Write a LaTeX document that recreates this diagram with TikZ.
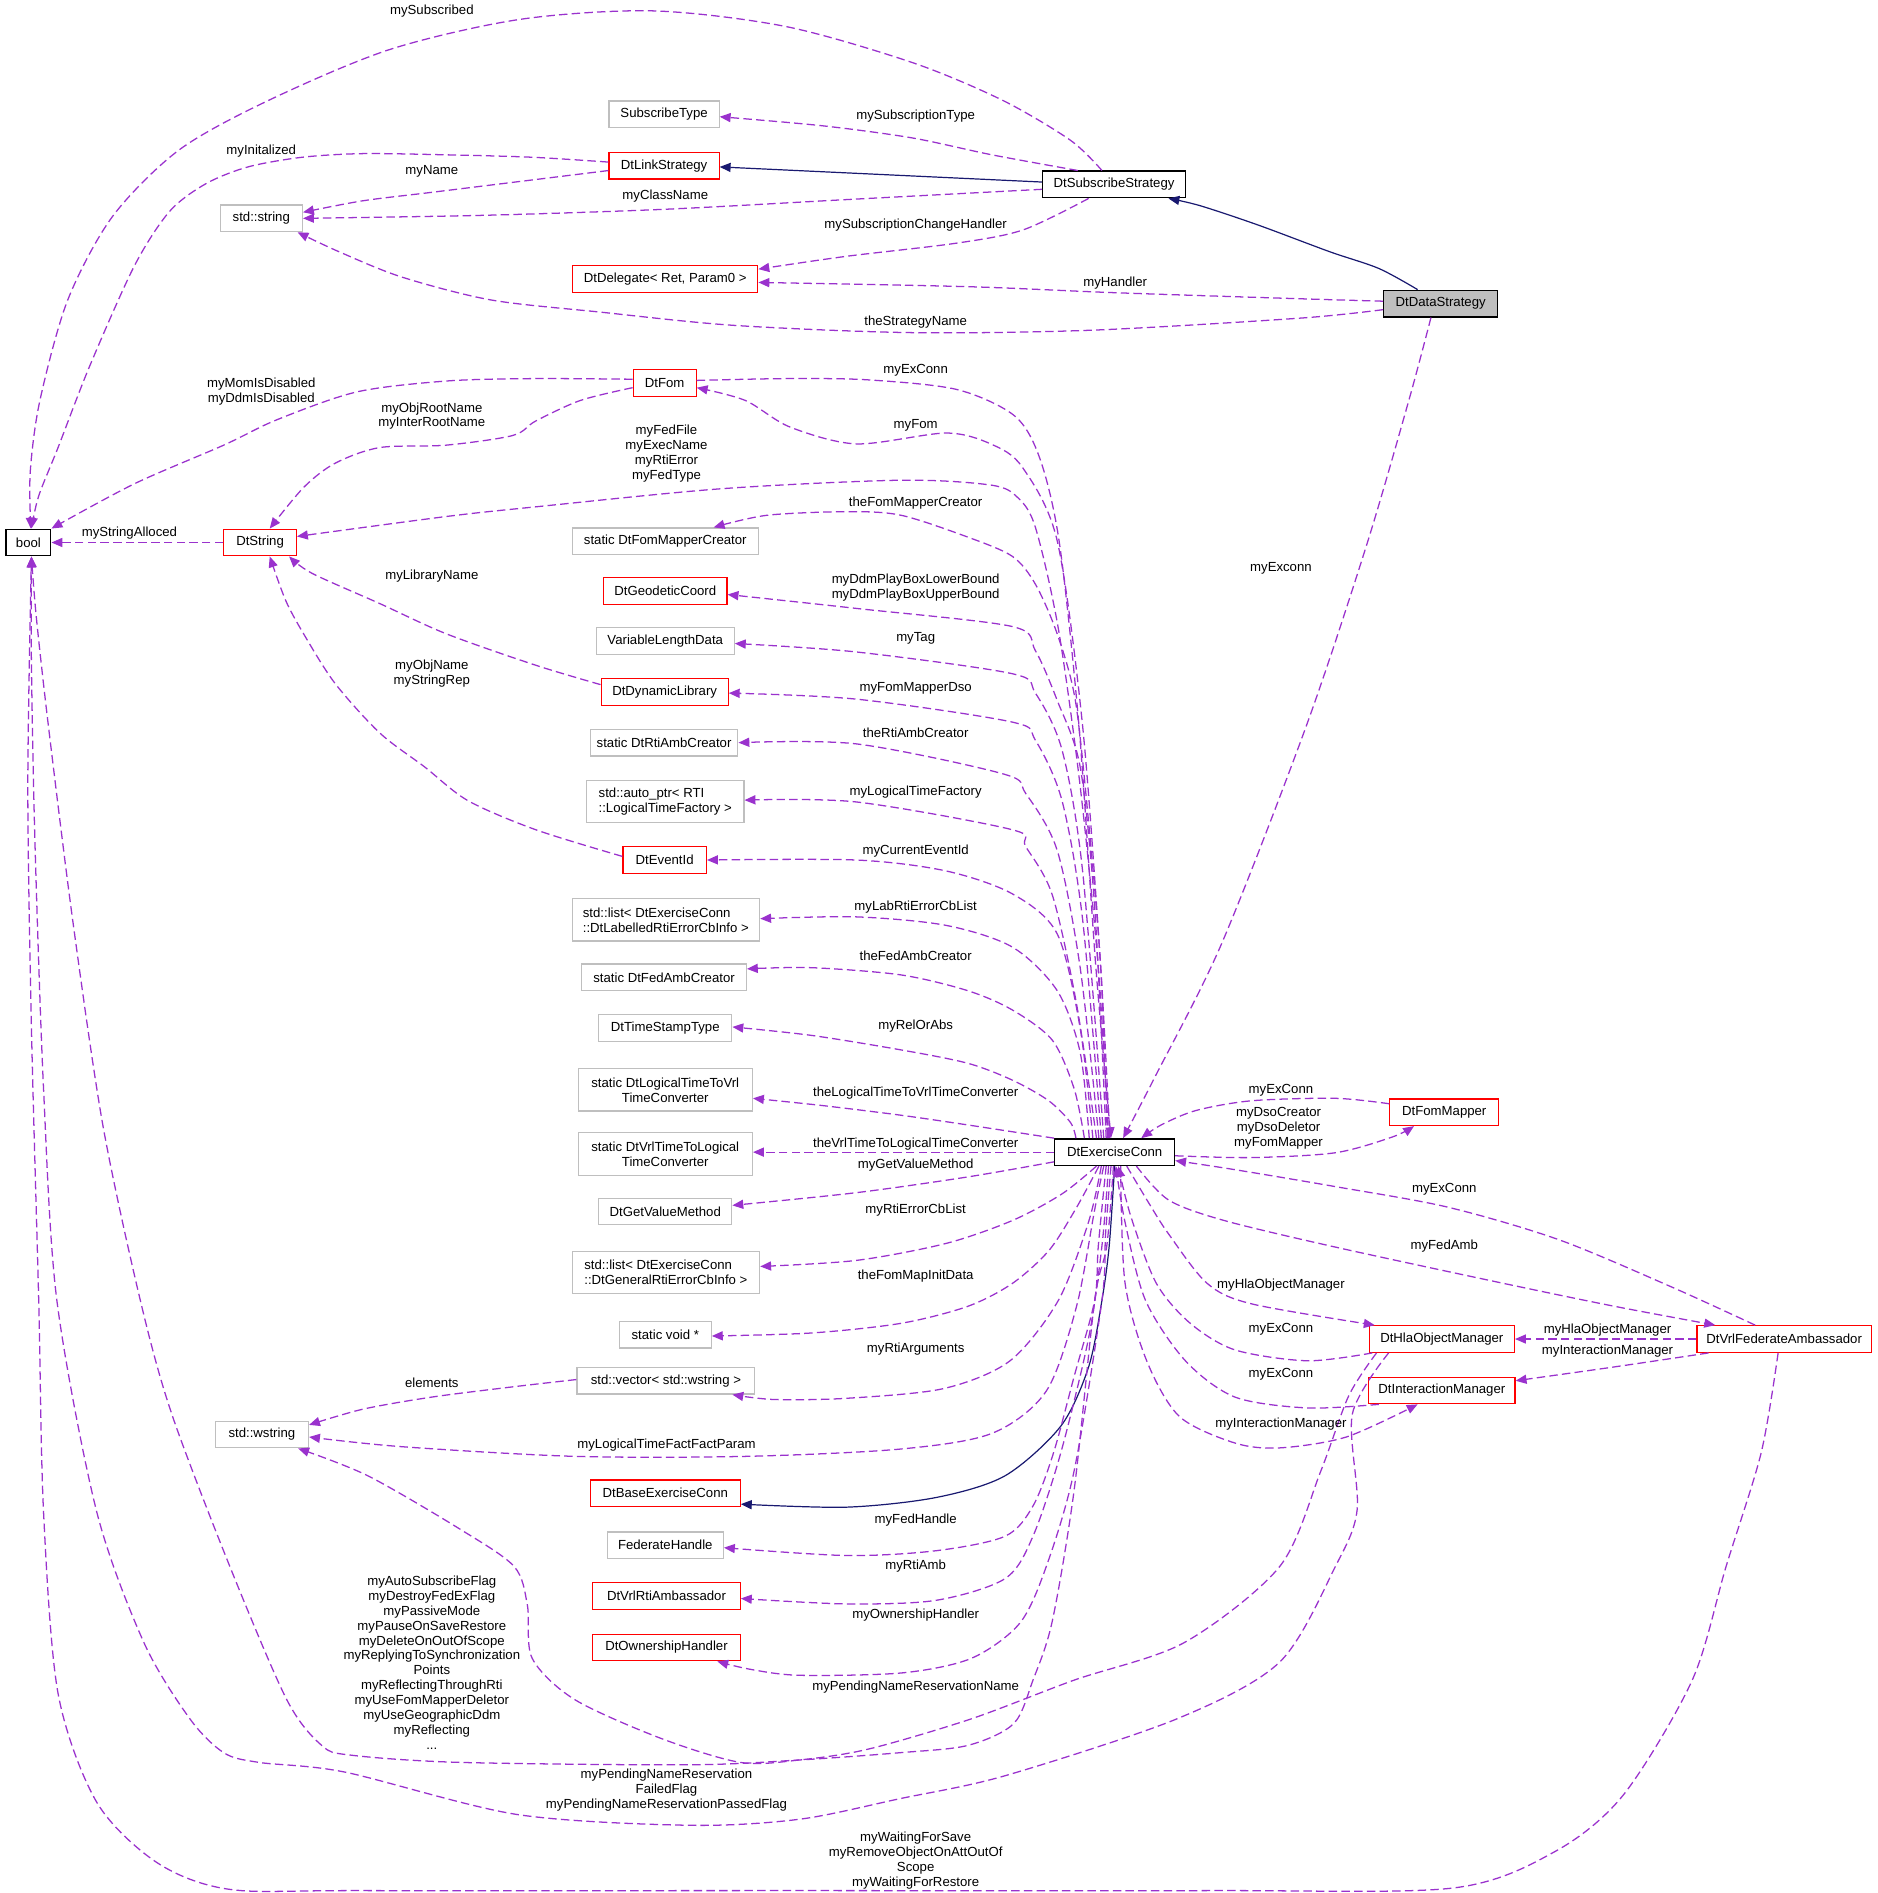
\documentclass[tikz,border=0pt]{standalone}
\usepackage{fontspec}
\setmainfont{Liberation Sans}
\usetikzlibrary{arrows.meta}
\definecolor{edgepurple}{HTML}{9A32CD}
\definecolor{inhnavy}{HTML}{191970}
\definecolor{nodered}{HTML}{FF0000}
\definecolor{nodegray}{HTML}{BFBFBF}
\begin{document}
\begin{tikzpicture}[x=1pt,y=-1pt,
  every node/.style={font=\fontsize{10.9}{12.3}\selectfont},
  cls/.style={draw, rectangle, inner sep=0pt, minimum height=22pt, line width=1pt, align=center},
  redcls/.style={cls, draw=nodered},
  graycls/.style={cls, draw=nodegray},
  blackcls/.style={cls, draw=black, line width=1.1pt},
  lbl/.style={inner sep=0pt, align=center},
  dep/.style={draw=edgepurple, line width=1.05pt, dash pattern=on 7pt off 3.5pt, -{Triangle[length=9pt,width=7.5pt]}},
  inh/.style={draw=inhnavy, line width=1pt, -{Triangle[length=9pt,width=7.5pt]}},
]
\useasboundingbox (0,0) rectangle (1552,1565);

% ---------- nodes ----------
\node[blackcls, minimum width=37pt] (bool) at (23.5,448.5) {bool};
\node[redcls, minimum width=60pt] (dtstring) at (215,448.5) {DtString};
\node[graycls, minimum width=68pt] (stdstring) at (216,180.5) {std::string};
\node[graycls, minimum width=91pt] (subtype) at (549,94.5) {SubscribeType};
\node[redcls, minimum width=91pt] (linkstrat) at (549,137) {DtLinkStrategy};
\node[blackcls, minimum width=118pt] (subscribe) at (921,152.5) {DtSubscribeStrategy};
\node[redcls, minimum width=153pt] (delegate) at (550,230.5) {DtDelegate< Ret, Param0 >};
\node[blackcls, fill=nodegray, minimum width=94pt] (datastrat) at (1191,251) {DtDataStrategy};
\node[redcls, minimum width=52pt] (dtfom) at (549.5,316.5) {DtFom};
\node[graycls, minimum width=154pt] (fmcreator) at (550,447.5) {static DtFomMapperCreator};
\node[redcls, minimum width=102pt] (geodetic) at (550,488.5) {DtGeodeticCoord};
\node[graycls, minimum width=114pt] (varlen) at (550,530) {VariableLengthData};
\node[redcls, minimum width=105pt] (dynlib) at (549.5,572) {DtDynamicLibrary};
\node[graycls, minimum width=122pt] (rtiambcreator) at (549,614) {static DtRtiAmbCreator};
\node[graycls, minimum width=130pt, minimum height=35pt, align=left] (autoptr) at (550,662.5) {std::auto\_ptr< RTI\\::LogicalTimeFactory >};
\node[redcls, minimum width=69pt] (eventid) at (549.5,711) {DtEventId};
\node[graycls, minimum width=155pt, minimum height=35pt, align=left] (listlab) at (550.5,760.5) {std::list< DtExerciseConn\\::DtLabelledRtiErrorCbInfo >};
\node[graycls, minimum width=136pt] (fedambcreator) at (549,808) {static DtFedAmbCreator};
\node[graycls, minimum width=110pt] (timestamp) at (550,850) {DtTimeStampType};
\node[graycls, minimum width=144pt, minimum height=35pt] (log2vrl) at (550,901) {static DtLogicalTimeToVrl\\TimeConverter};
\node[graycls, minimum width=144pt, minimum height=35pt] (vrl2log) at (550,954) {static DtVrlTimeToLogical\\TimeConverter};
\node[graycls, minimum width=110pt] (getvalue) at (550,1001.5) {DtGetValueMethod};
\node[graycls, minimum width=155pt, minimum height=35pt, align=left] (listgen) at (550.5,1052) {std::list< DtExerciseConn\\::DtGeneralRtiErrorCbInfo >};
\node[graycls, minimum width=76pt] (staticvoid) at (550,1103.5) {static void *};
\node[graycls, minimum width=147pt] (vector) at (550.5,1141.5) {std::vector< std::wstring >};
\node[graycls, minimum width=77pt] (wstring) at (216.5,1186) {std::wstring};
\node[redcls, minimum width=124pt] (baseexconn) at (550,1234.5) {DtBaseExerciseConn};
\node[graycls, minimum width=96pt] (fedhandle) at (550,1277.5) {FederateHandle};
\node[redcls, minimum width=122pt] (vrlrtiamb) at (551,1319.5) {DtVrlRtiAmbassador};
\node[redcls, minimum width=122pt] (ownership) at (551,1362) {DtOwnershipHandler};
\node[blackcls, minimum width=99pt] (exconn) at (921.5,952.5) {DtExerciseConn};
\node[redcls, minimum width=90pt] (fommapper) at (1194,919.5) {DtFomMapper};
\node[redcls, minimum width=120pt] (hla) at (1192,1107) {DtHlaObjectManager};
\node[redcls, minimum width=121pt] (interaction) at (1192,1149.5) {DtInteractionManager};
\node[redcls, minimum width=144pt] (vrlfed) at (1475,1107) {DtVrlFederateAmbassador};

% ---------- inheritance ----------
\draw[inh] ([yshift=2pt]subscribe.west) -- ([yshift=-1pt]linkstrat.east);
\draw[inh] plot[smooth] coordinates {([xshift=-19pt]datastrat.north) (1140,222) (1099,208) (1040,186) (992,170) ([xshift=45pt]subscribe.south)};
\draw[inh] plot[smooth] coordinates {(exconn.south) (917,1030) (911,1075) (900,1130) (877,1179) (831,1220) (774,1238) (700,1246) ([yshift=-9pt]baseexconn.east)};

% ---------- edges to bool ----------
\draw[dep] plot[smooth] coordinates {([xshift=-10pt]subscribe.north) (885,116) (829,83) (755,52) (650,22) (540,9) (430,16) (322,41) (222,83) (148,124) (93,179) (56,248) (33,331) (25,390) ([xshift=2pt]bool.north)};
\draw[dep] plot[smooth] coordinates {([yshift=3pt]linkstrat.west) (440,130) (369,128) (300,127) (250,130) (205,138) (170,152) (140,175) (111,220) (74,303) (48,370) (32,410) ([xshift=2.5pt]bool.north)};
\draw[dep] plot[smooth] coordinates {([yshift=3pt]dtfom.west) (440,313) (369,315) (295,324) (229,347) (185,368) (111,400) (bool.north east)};
\draw[dep] (dtstring.west) -- (bool.east);
\draw[dep] plot[smooth] coordinates {([xshift=-1pt]exconn.south) (915,1030) (905,1075) (888,1232) (870,1340) (854,1389) (838,1425) (800,1443) (744,1449) (661,1455) (570,1459) (380,1457) (290,1451) (266,1443) (237,1405) (190,1295) (142,1169) (116,1075) (85,930) (60,760) (40,600) (30,510) ([xshift=2.5pt]bool.south)};
\draw[dep] plot[smooth] coordinates {([xshift=-44pt]hla.south) (1118,1169) (1122,1248) (1104,1295) (1058,1374) (973,1421) (831,1468) (744,1487) (661,1504) (570,1509) (427,1500) (285,1465) (214,1457) (185,1449) (157,1421) (119,1358) (80,1250) (47,1075) (36,900) (29,700) (26,550) ([xshift=2.5pt]bool.south)};
\draw[dep] plot[smooth] coordinates {([xshift=-5pt]vrlfed.south) (1456,1201) (1427,1295) (1399,1389) (1342,1484) (1285,1531) (1200,1561) (1000,1563) (661,1563) (300,1563) (190,1562) (130,1540) (80,1490) (48,1400) (36,1250) (32,1075) (26,850) (23,650) ([xshift=2.5pt]bool.south)};

% ---------- other left edges ----------
\draw[dep] plot[smooth] coordinates {([yshift=-4pt]linkstrat.west) (430,150) (357,159) (300,166) ([yshift=5pt]stdstring.east)};
\draw[dep] plot[smooth] coordinates {([yshift=-4pt]subscribe.west) (700,165) (550,173) (400,178) (stdstring.east)};
\draw[dep] plot[smooth] coordinates {([xshift=-30pt]subscribe.north) (820,128) (754,114) (680,104) ([yshift=-2pt]subtype.east)};
\draw[dep] plot[smooth] coordinates {([xshift=-21pt]subscribe.south) (846,190) (791,201) (699,212) ([yshift=8pt]delegate.east)};
\draw[dep] plot[smooth] coordinates {([yshift=2pt]datastrat.west) (1075,247) (922,242) (800,237) ([yshift=-3pt]delegate.east)};
\draw[dep] plot[smooth] coordinates {([yshift=-5pt]datastrat.west) (1075,263) (902,273) (754,275) (607,269) (496,258) (406,248) (332,229) (280,208) ([xshift=30pt]stdstring.south)};
\draw[dep] plot[smooth] coordinates {([yshift=-4pt]dtfom.west) (480,331) (443,348) (424,360) (369,368) (314,370) (277,383) (251,403) ([xshift=8pt]dtstring.north)};
\draw[dep] plot[smooth] coordinates {([yshift=6pt]dynlib.west) (443,550) (369,524) (314,499) (258,474) ([xshift=24pt]dtstring.south)};
\draw[dep] plot[smooth] coordinates {([yshift=3pt]eventid.west) (443,686) (387,662) (351,634) (314,606) (277,565) (251,524) (236,496) ([xshift=8pt]dtstring.south)};
\draw[dep] plot[smooth] coordinates {([yshift=1pt]vector.west) (420,1147) (357,1155) (300,1165) ([yshift=8pt]wstring.east)};

% ---------- DtExerciseConn top fan ----------
\draw[dep] plot[smooth] coordinates {([xshift=-5pt]exconn.north) (908,800) (893,650) (875,520) (856,436) (841,411) (819,401) (745,397) (597,404) (443,419) (369,427) ([yshift=5pt]dtstring.east)};
\draw[dep] plot[smooth] coordinates {([xshift=-4pt]exconn.north) (910,800) (895,600) (874,447) (845,386) (819,367) (782,358) (708,367) (653,353) (616,331) ([yshift=-4pt]dtfom.east)};
\draw[dep] plot[smooth] coordinates {([yshift=2pt]dtfom.east) (650,313) (717,314) (791,322) (839,344) (860,380) (876,450) (892,600) (906,800) ([xshift=-3pt]exconn.north)};
\draw[dep] plot[smooth] coordinates {([xshift=-8pt]datastrat.south) (1165,330) (1130,450) (1080,600) (1010,780) (955,890) ([xshift=7pt]exconn.north)};
\draw[dep] plot[smooth] coordinates {([xshift=-6pt]exconn.north) (910,800) (900,680) (889,579) (874,524) (856,483) (837,460) (800,444) (745,426) (701,423) (634,426) ([xshift=40pt]fmcreator.north)};
\draw[dep] plot[smooth] coordinates {([xshift=-7pt]exconn.north) (905,750) (893,634) (874,579) (856,538) (837,518) (708,503) ([yshift=-3pt]geodetic.east)};
\draw[dep] plot[smooth] coordinates {([xshift=-9pt]exconn.north) (895,720) (878,620) (856,573) (837,557) (708,539) ([yshift=-2pt]varlen.east)};
\draw[dep] plot[smooth] coordinates {([xshift=-11pt]exconn.north) (895,760) (878,662) (856,612) (837,597) (708,578) ([yshift=-1pt]dynlib.east)};
\draw[dep] plot[smooth] coordinates {([xshift=-13pt]exconn.north) (893,800) (874,703) (848,656) (830,640) (708,615) (rtiambcreator.east)};
\draw[dep] plot[smooth] coordinates {([xshift=-15pt]exconn.north) (890,830) (870,740) (848,700) (837,686) (708,663) ([yshift=1pt]autoptr.east)};
\draw[dep] plot[smooth] coordinates {([xshift=-18pt]exconn.north) (893,850) (874,772) (837,739) (782,720) (708,711) (eventid.east)};
\draw[dep] plot[smooth] coordinates {([xshift=-21pt]exconn.north) (893,870) (874,819) (837,783) (782,765) (708,758) ([yshift=1pt]listlab.east)};
\draw[dep] plot[smooth] coordinates {([xshift=-25pt]exconn.north) (888,900) (870,860) (837,835) (800,819) (745,806) (671,800) ([yshift=7pt]fedambcreator.east)};
\draw[dep] plot[smooth] coordinates {([xshift=-32pt]exconn.north) (885,928) (867,910) (837,893) (800,879) (745,868) (671,856) ([yshift=1pt]timestamp.east)};

% ---------- DtExerciseConn left / bottom ----------
\draw[dep] plot[smooth] coordinates {(exconn.north west) (800,930) (745,922) (680,914) ([yshift=-7pt]log2vrl.east)};
\draw[dep] (exconn.west) -- (exconn.west -| vrl2log.east);
\draw[dep] plot[smooth] coordinates {([yshift=-8pt]exconn.west) (800,973) (708,986) ([yshift=5pt]getvalue.east)};
\draw[dep] plot[smooth] coordinates {([xshift=-15pt]exconn.south) (878,987) (837,1009) (782,1028) (708,1042) ([yshift=5pt]listgen.east)};
\draw[dep] plot[smooth] coordinates {([xshift=-13pt]exconn.south) (889,1000) (867,1034) (837,1061) (800,1080) (745,1094) (671,1102) ([yshift=-1pt]staticvoid.east)};
\draw[dep] plot[smooth] coordinates {([xshift=-11pt]exconn.south) (900,1010) (875,1075) (835,1125) (780,1148) (700,1156) (640,1157) ([xshift=55pt]vector.south)};
\draw[dep] plot[smooth] coordinates {([xshift=-9pt]exconn.south) (905,1000) (890,1080) (865,1150) (820,1185) (744,1198) (617,1204) (475,1204) (332,1196) ([yshift=-2pt]wstring.east)};
\draw[dep] plot[smooth] coordinates {([xshift=-7pt]exconn.south) (908,1030) (905,1075) (888,1138) (871,1201) (854,1245) (831,1270) (774,1282) (700,1286) ([yshift=-2pt]fedhandle.east)};
\draw[dep] plot[smooth] coordinates {([xshift=-5pt]exconn.south) (911,1030) (900,1106) (877,1201) (854,1270) (831,1305) (774,1323) (700,1326) ([yshift=-2pt]vrlrtiamb.east)};
\draw[dep] plot[smooth] coordinates {([xshift=-3pt]exconn.south) (914,1020) (911,1075) (888,1216) (865,1295) (843,1342) (803,1371) (746,1383) (661,1385) (620,1380) ([xshift=42pt]ownership.south)};
\draw[dep] plot[smooth] coordinates {([xshift=-54pt]hla.south) (1115,1154) (1092,1216) (1058,1295) (979,1358) (888,1389) (803,1421) (718,1446) (661,1455) (612,1457) (546,1437) (475,1405) (440,1371) (436,1327) (425,1295) (380,1264) (304,1220) ([xshift=30pt]wstring.south)};

% ---------- right side ----------
\draw[dep] plot[smooth] coordinates {([yshift=7pt]fommapper.west) (1104,908) (1035,910) (989,918) (960,930) ([xshift=22pt]exconn.north)};
\draw[dep] plot[smooth] coordinates {([yshift=-3pt]exconn.east) (1035,957) (1104,953) (1151,940) ([xshift=-25pt]fommapper.south)};
\draw[dep] plot[smooth] coordinates {([xshift=-24pt]vrlfed.north) (1382,1064) (1289,1025) (1197,998) (1104,981) (1021,967) ([yshift=-7pt]exconn.east)};
\draw[dep] plot[smooth] coordinates {([xshift=18pt]exconn.south) (966,992) (1012,1009) (1104,1031) (1243,1061) (1335,1080) ([xshift=-57pt]vrlfed.north)};
\draw[dep] plot[smooth] coordinates {([xshift=10pt]exconn.south) (950,995) (966,1020) (998,1061) (1035,1078) ([xshift=5pt]hla.north west)};
\draw[dep] plot[smooth] coordinates {([xshift=3pt]hla.south west) (1081,1125) (1021,1116) (984,1094) (956,1061) (935,1006) ([xshift=3pt]exconn.south)};
\draw[dep] plot[smooth] coordinates {([xshift=9pt]interaction.south west) (1081,1164) (1021,1155) (980,1125) (947,1075) (930,1010) ([xshift=1pt]exconn.south)};
\draw[dep] plot[smooth] coordinates {([xshift=5pt]exconn.south) (930,1060) (948,1125) (975,1171) (1021,1193) (1058,1197) (1113,1188) ([xshift=-20pt]interaction.south)};
\draw[dep] (vrlfed.west) -- (hla.east);
\draw[dep] plot[smooth] coordinates {([xshift=10pt]vrlfed.south west) (1335,1130) ([yshift=8pt]interaction.east)};

% ---------- labels ----------
\node[lbl] (l01) at (357,9) {mySubscribed};
\node[lbl] (l02) at (757,96) {mySubscriptionType};
\node[lbl] (l03) at (216,125) {myInitalized};
\node[lbl] (l04) at (357,142) {myName};
\node[lbl] (l05) at (550,162) {myClassName};
\node[lbl] (l06) at (757,186) {mySubscriptionChangeHandler};
\node[lbl] (l07) at (922,234) {myHandler};
\node[lbl] (l08) at (757,266) {theStrategyName};
\node[lbl] (l09) at (757,306) {myExConn};
\node[lbl] (l10) at (216,324) {myMomIsDisabled\\myDdmIsDisabled};
\node[lbl] (l11) at (357,344) {myObjRootName\\myInterRootName};
\node[lbl] (l12) at (757,352) {myFom};
\node[lbl] (l13) at (551,375) {myFedFile\\myExecName\\myRtiError\\myFedType};
\node[lbl] (l14) at (757,416) {theFomMapperCreator};
\node[lbl] (l15) at (107,441) {myStringAlloced};
\node[lbl] (l16) at (357,476) {myLibraryName};
\node[lbl] (l17) at (757,486) {myDdmPlayBoxLowerBound\\myDdmPlayBoxUpperBound};
\node[lbl] (l18) at (1059,470) {myExconn};
\node[lbl] (l19) at (757,528) {myTag};
\node[lbl] (l20) at (357,557) {myObjName\\myStringRep};
\node[lbl] (l21) at (757,569) {myFomMapperDso};
\node[lbl] (l22) at (757,606) {theRtiAmbCreator};
\node[lbl] (l23) at (757,655) {myLogicalTimeFactory};
\node[lbl] (l24) at (757,704) {myCurrentEventId};
\node[lbl] (l25) at (757,750) {myLabRtiErrorCbList};
\node[lbl] (l26) at (757,790) {theFedAmbCreator};
\node[lbl] (l27) at (757,848) {myRelOrAbs};
\node[lbl] (l28) at (757,904) {theLogicalTimeToVrlTimeConverter};
\node[lbl] (l29) at (1059,901) {myExConn};
\node[lbl] (l30) at (1057,933) {myDsoCreator\\myDsoDeletor\\myFomMapper};
\node[lbl] (l31) at (757,946) {theVrlTimeToLogicalTimeConverter};
\node[lbl] (l32) at (757,963) {myGetValueMethod};
\node[lbl] (l33) at (1194,983) {myExConn};
\node[lbl] (l34) at (757,1000) {myRtiErrorCbList};
\node[lbl] (l35) at (1194,1030) {myFedAmb};
\node[lbl] (l36) at (757,1055) {theFomMapInitData};
\node[lbl] (l37) at (1059,1062) {myHlaObjectManager};
\node[lbl] (l38) at (1059,1099) {myExConn};
\node[lbl] (l39) at (1329,1100) {myHlaObjectManager};
\node[lbl] (l40) at (1329,1117) {myInteractionManager};
\node[lbl] (l41) at (757,1115) {myRtiArguments};
\node[lbl] (l42) at (1059,1136) {myExConn};
\node[lbl] (l43) at (357,1143) {elements};
\node[lbl] (l44) at (1059,1177) {myInteractionManager};
\node[lbl] (l45) at (551,1195) {myLogicalTimeFactFactParam};
\node[lbl] (l46) at (757,1257) {myFedHandle};
\node[lbl] (l47) at (757,1295) {myRtiAmb};
\node[lbl] (l48) at (757,1335) {myOwnershipHandler};
\node[lbl] (l49) at (357,1374.5) {myAutoSubscribeFlag\\myDestroyFedExFlag\\myPassiveMode\\myPauseOnSaveRestore\\myDeleteOnOutOfScope\\myReplyingToSynchronization\\Points\\myReflectingThroughRti\\myUseFomMapperDeletor\\myUseGeographicDdm\\myReflecting\\...};
\node[lbl] (l50) at (757,1395) {myPendingNameReservationName};
\node[lbl] (l51) at (551,1480) {myPendingNameReservation\\FailedFlag\\myPendingNameReservationPassedFlag};
\node[lbl] (l52) at (757,1538) {myWaitingForSave\\myRemoveObjectOnAttOutOf\\Scope\\myWaitingForRestore};
\end{tikzpicture}
\end{document}
